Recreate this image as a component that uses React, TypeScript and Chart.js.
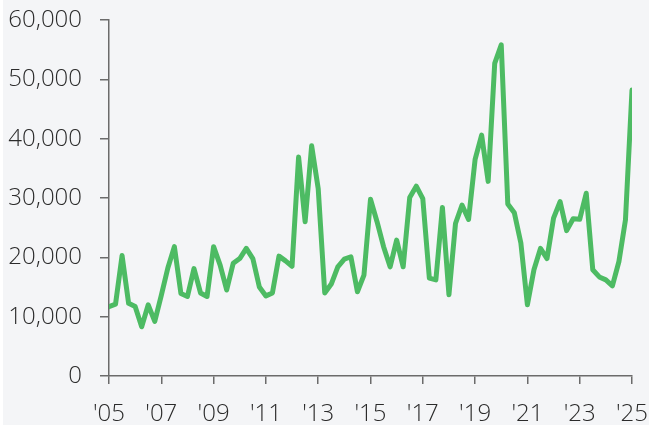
import React, { useEffect, useRef } from "react";
import { Chart, registerables } from "chart.js";

Chart.register(...registerables);

// Quarterly series, 2005 Q1 – 2025 Q1
const startYear = 2005;
const values: number[] = [
  11700, 12100, 20300, 12250, 11700, 8300, 12000, 9200,
  13600, 18200, 21800, 13900, 13400, 18100, 14000, 13400,
  21800, 18700, 14500, 19000, 19800, 21500, 19800, 15000,
  13500, 14000, 20200, 19400, 18500, 36900, 26000, 38800,
  31600, 14000, 15500, 18400, 19700, 20100, 14200, 17000,
  29800, 26000, 21800, 18400, 22900, 18400, 30100, 32000,
  29900, 16500, 16200, 28400, 13700, 25700, 28800, 26400,
  36500, 40600, 32800, 52700, 55800, 29000, 27500, 22400,
  12000, 17900, 21500, 19800, 26600, 29400, 24500, 26500,
  26400, 30800, 17900, 16700, 16200, 15200, 19300, 26300,
  48200,
];
const xTickYears: number[] = [2005, 2007, 2009, 2011, 2013, 2015, 2017, 2019, 2021, 2023, 2025];
const yTicks: number[] = [0, 10000, 20000, 30000, 40000, 50000, 60000];

export default function App() {
  const ref = useRef<HTMLCanvasElement | null>(null);
  useEffect(() => {
    if (!ref.current) return;
    const points = values.map((v, i) => ({ x: startYear + i / 4, y: v }));
    const axisColor = "#6b6b6b";
    const textColor = "#2b2b2b";
    const font = { family: "'Open Sans', sans-serif", size: 24, weight: "300" };
    const chart = new Chart(ref.current, {
      type: "line",
      data: {
        datasets: [
          {
            data: points,
            borderColor: "#4dbb63",
            borderWidth: 5,
            pointRadius: 0,
            tension: 0,
            borderJoinStyle: "round",
            borderCapStyle: "round",
            fill: false,
          },
        ],
      },
      options: {
        animation: false,
        responsive: false,
        maintainAspectRatio: false,
        layout: { padding: { top: 20, right: 17, bottom: 0, left: 0 } },
        plugins: { legend: { display: false }, tooltip: { enabled: false } },
        scales: {
          x: {
            type: "linear",
            min: xTickYears[0],
            max: xTickYears[xTickYears.length - 1],
            afterBuildTicks: (scale: any) => {
              scale.ticks = xTickYears.map((v) => ({ value: v }));
            },
            afterFit: (scale: any) => {
              scale.height = 52;
              scale.paddingLeft = 0;
              scale.paddingRight = 0;
            },
            ticks: {
              color: textColor,
              font,
              padding: 16,
              maxRotation: 0,
              autoSkip: false,
              callback: (v: any) => "'" + String(v).slice(2),
            },
            grid: { drawOnChartArea: false, drawTicks: true, tickLength: 8, color: axisColor, lineWidth: 1.5 },
            border: { display: true, color: axisColor, width: 1.5 },
          },
          y: {
            min: yTicks[0],
            max: yTicks[yTicks.length - 1],
            afterBuildTicks: (scale: any) => {
              scale.ticks = yTicks.map((v) => ({ value: v }));
            },
            afterFit: (scale: any) => {
              scale.width = 109;
              scale.paddingTop = 0;
              scale.paddingBottom = 0;
            },
            ticks: {
              color: textColor,
              font,
              padding: 18,
              callback: (v: any) => Number(v).toLocaleString("en-US"),
            },
            grid: { drawOnChartArea: false, drawTicks: true, tickLength: 9, color: axisColor, lineWidth: 1.5 },
            border: { display: true, color: axisColor, width: 1.5 },
          },
        },
      },
    } as any);
    return () => chart.destroy();
  }, []);
  return (
    <div style={{ position: "fixed", left: 0, top: 0, width: 649, height: 428, background: "#ffffff" }}>
      <div style={{ position: "absolute", left: 3, top: 0, width: 646, height: 425, background: "#f4f5f7" }} />
      <canvas ref={ref} width={649} height={428} style={{ position: "absolute", left: 0, top: 0, width: 649, height: 428 }} />
    </div>
  );
}
